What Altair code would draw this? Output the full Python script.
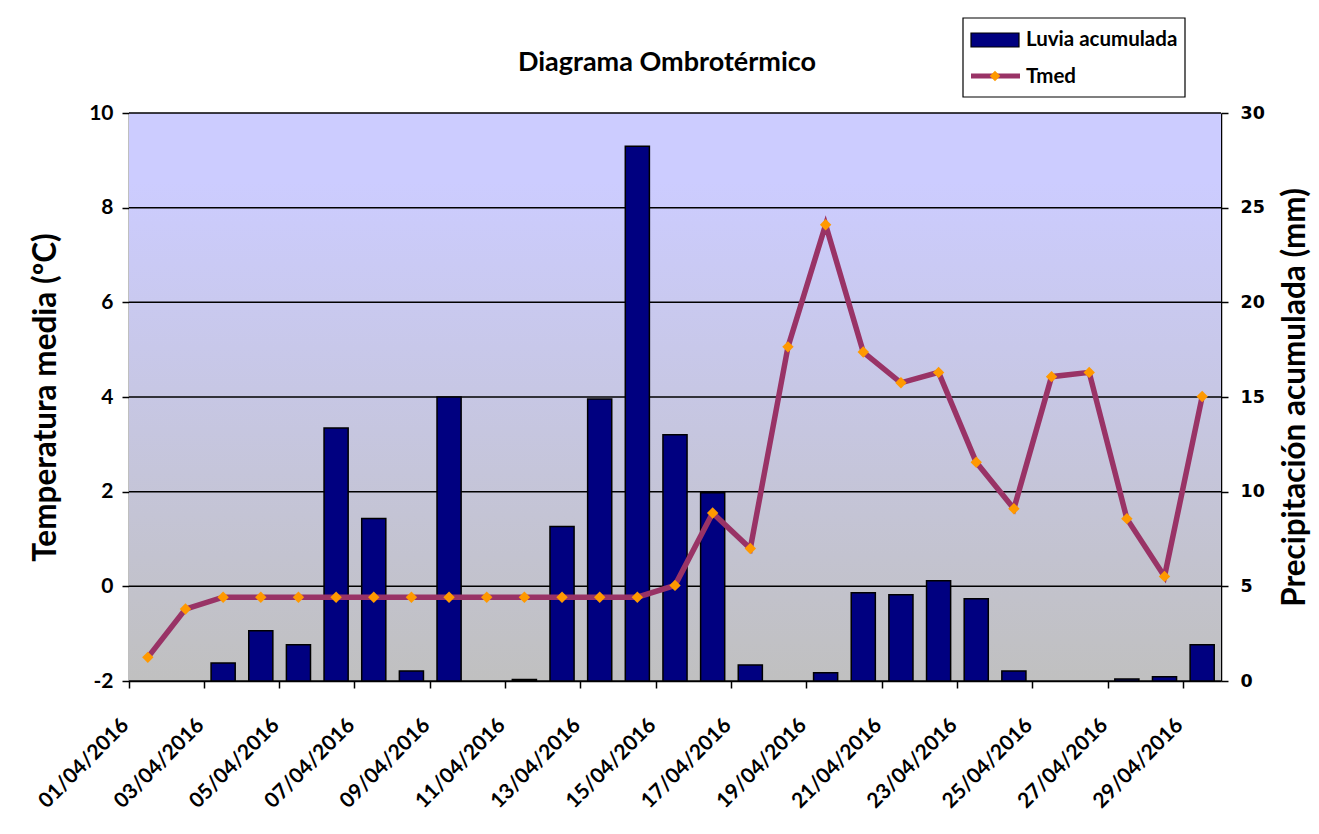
import altair as alt
import pandas as pd

# ---------------- data ----------------
fechas = ["01/04/2016", "02/04/2016", "03/04/2016", "04/04/2016", "05/04/2016",
          "06/04/2016", "07/04/2016", "08/04/2016", "09/04/2016", "10/04/2016",
          "11/04/2016", "12/04/2016", "13/04/2016", "14/04/2016", "15/04/2016",
          "16/04/2016", "17/04/2016", "18/04/2016", "19/04/2016", "20/04/2016",
          "21/04/2016", "22/04/2016", "23/04/2016", "24/04/2016", "25/04/2016",
          "26/04/2016", "27/04/2016", "28/04/2016", "29/04/2016"]
lluvia = [0, 0, 0.95, 2.65, 1.92, 13.36, 8.58, 0.53, 15.0, 0,
          0.08, 8.16, 14.9, 28.24, 13.0, 9.94, 0.85, 0, 0.43, 4.66,
          4.55, 5.3, 4.35, 0.53, 0, 0, 0.1, 0.22, 1.92]
tmed = [-1.50, -0.48, -0.23, -0.23, -0.23, -0.23, -0.23, -0.23, -0.23, -0.23,
        -0.23, -0.23, -0.23, -0.23, 0.02, 1.55, 0.80, 5.06, 7.64, 4.95,
        4.30, 4.52, 2.62, 1.64, 4.43, 4.52, 1.43, 0.21, 4.01]
etiquetas_x = ["01/04/2016", "03/04/2016", "05/04/2016", "07/04/2016", "09/04/2016",
               "11/04/2016", "13/04/2016", "15/04/2016", "17/04/2016", "19/04/2016",
               "21/04/2016", "23/04/2016", "25/04/2016", "27/04/2016", "29/04/2016"]
ticks_temp = [-2, 0, 2, 4, 6, 8, 10]
ticks_lluvia = [0, 5, 10, 15, 20, 25, 30]
series = ["Luvia acumulada", "Tmed"]
titulo = "Diagrama Ombrotérmico"

df = pd.DataFrame({"fecha": fechas, "lluvia": lluvia, "tmed": tmed})
grid_df = pd.DataFrame({"v": ticks_temp})
one = pd.DataFrame({"k": [0]})

W, H = 1092, 568
FONT = "Lato"
NAVY = "#000080"
PLUM = "#993366"
ORANGE = "#FF9900"
BORDER = "#DDD9C3"

x_enc = alt.X(
    "fecha:N", sort=fechas,
    scale=alt.Scale(paddingInner=0, paddingOuter=0),
    axis=alt.Axis(values=etiquetas_x, bandPosition=0, labelAngle=-45,
                  labelAlign="right", labelBaseline="top", labelPadding=26,
                  labelOffset=-30, tickSize=7, tickColor="black", tickWidth=1.5,
                  domainColor="black", domainWidth=1.5, labelFont=FONT,
                  labelFontSize=21, labelFontWeight="bold", labelColor="black",
                  title=None, grid=False, labelOverlap=False),
)
x_plain = alt.X("fecha:N", sort=fechas, scale=alt.Scale(paddingInner=0, paddingOuter=0))

temp_scale = alt.Scale(domain=[-2, 10], nice=False, zero=False)
rain_scale = alt.Scale(domain=[0, 30], nice=False)

bg = alt.Chart(one).mark_rect(
    fill=alt.Gradient(gradient="linear",
                      stops=[alt.GradientStop(color="#CCCCFF", offset=0),
                             alt.GradientStop(color="#CCCCFF", offset=0.12),
                             alt.GradientStop(color="#C0C0C0", offset=1)],
                      x1=0, x2=0, y1=0, y2=1)
).encode(x=alt.value(0), x2=alt.value(W), y=alt.value(0), y2=alt.value(H))

grid = alt.Chart(grid_df).mark_rule(color="black", strokeWidth=1.5).encode(
    y=alt.Y("v:Q", scale=temp_scale, axis=None)
)

bars = alt.Chart(df).transform_filter("datum.lluvia > 0").mark_bar(
    width=alt.RelativeBandSize(0.64), fill=NAVY, stroke="black", strokeWidth=1.5
).encode(
    x=x_enc,
    y=alt.Y("lluvia:Q", scale=rain_scale,
            axis=alt.Axis(orient="right", values=ticks_lluvia, grid=False,
                          title="Precipitación acumulada (mm)", titleFont=FONT,
                          titleFontSize=31.5, titleFontWeight="bold", titleColor="black",
                          titleAngle=270, titleX=74, titleY=H / 2, titleAlign="center",
                          titleBaseline="middle",
                          labelFont="DejaVu Sans", labelFontSize=17.5, labelFontWeight="bold",
                          labelColor="black", labelPadding=12, tickSize=7,
                          tickColor="black", tickWidth=1.5, domainColor="black",
                          domainWidth=1.5)),
)

line = alt.Chart(df).mark_line(color=PLUM, strokeWidth=5.5).encode(
    x=x_plain,
    y=alt.Y("tmed:Q", scale=temp_scale,
            axis=alt.Axis(orient="left", values=ticks_temp, grid=False,
                          labelExpr="'' + datum.value",
                          title="Temperatura media (ºC)", titleFont=FONT,
                          titleFontSize=31.5, titleFontWeight="bold", titleColor="black",
                          titleAngle=270, titleX=-83, titleY=H / 2, titleAlign="center",
                          titleBaseline="middle",
                          labelFont=FONT, labelFontSize=21, labelFontWeight="bold",
                          labelColor="black", labelPadding=9, tickSize=7,
                          tickColor="black", tickWidth=1.5, domainColor="black",
                          domainWidth=1.5)),
)

pts = alt.Chart(df).mark_point(shape="diamond", filled=True, fill=ORANGE,
                               size=130, opacity=1, strokeWidth=0).encode(
    x=x_plain,
    y=alt.Y("tmed:Q", scale=temp_scale, axis=None),
)

# ---------------- title (as text) ----------------
title_mark = alt.Chart(one).mark_text(align="center", baseline="alphabetic", font=FONT,
                                      fontSize=27, fontWeight="bold", color="black").encode(
    x=alt.value(538), y=alt.value(-42), text=alt.value(titulo))

# ---------------- legend ----------------
leg_box = alt.Chart(one).mark_rect(fill="white", stroke="black", strokeWidth=1.2).encode(
    x=alt.value(834), x2=alt.value(1056), y=alt.value(-95), y2=alt.value(-16))
leg_bar = alt.Chart(one).mark_rect(fill=NAVY, stroke="black", strokeWidth=1.2).encode(
    x=alt.value(842), x2=alt.value(890), y=alt.value(-80), y2=alt.value(-66))
leg_line = alt.Chart(one).mark_rule(color=PLUM, strokeWidth=5).encode(
    x=alt.value(842), x2=alt.value(891), y=alt.value(-37))
leg_pt = alt.Chart(one).mark_point(shape="diamond", filled=True, fill=ORANGE,
                                   size=110, opacity=1, strokeWidth=0).encode(
    x=alt.value(866), y=alt.value(-37))
leg_t1 = alt.Chart(one).mark_text(align="left", baseline="middle", font=FONT,
                                  fontSize=20.5, fontWeight="bold", color="black").encode(
    x=alt.value(897), y=alt.value(-73), text=alt.value(series[0]))
leg_t2 = alt.Chart(one).mark_text(align="left", baseline="middle", font=FONT,
                                  fontSize=20.5, fontWeight="bold", color="black").encode(
    x=alt.value(897), y=alt.value(-36), text=alt.value(series[1]))

# faint outer frame (top and left edges)
frame_top = alt.Chart(one).mark_rule(color=BORDER, strokeWidth=1.5).encode(
    x=alt.value(-122), x2=alt.value(W + 120), y=alt.value(-106))
frame_left = alt.Chart(one).mark_rule(color=BORDER, strokeWidth=1.5).encode(
    x=alt.value(-122), y=alt.value(-106), y2=alt.value(H + 200))

chart = alt.layer(
    frame_top, frame_left, bg, grid, bars, line, pts, title_mark,
    leg_box, leg_bar, leg_line, leg_pt, leg_t1, leg_t2
).resolve_scale(y="independent").properties(
    width=W, height=H,
    autosize=alt.AutoSizeParams(type="none"),
    padding={"left": 121, "top": 105, "right": 90, "bottom": 140},
).configure_view(stroke=None).configure(background="white")

chart.save("out.html", embed_options={"renderer": "svg", "actions": False})
